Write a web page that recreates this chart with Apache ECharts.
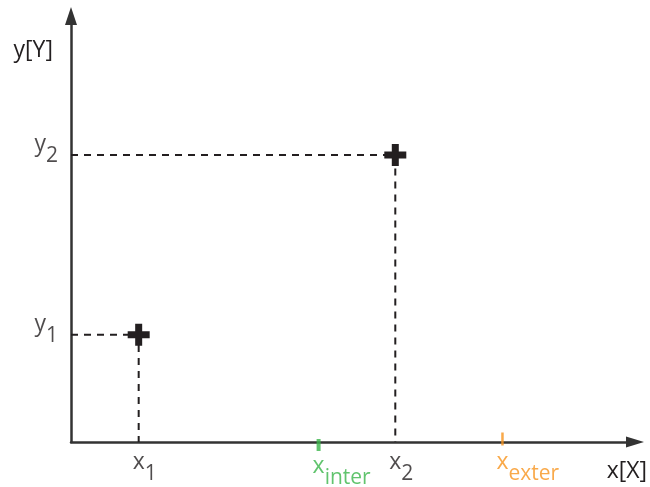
<!DOCTYPE html>
<html><head><meta charset="utf-8">
<script src="https://cdn.jsdelivr.net/npm/echarts@6/dist/echarts.min.js"></script>
<style>html,body{margin:0;padding:0;background:#fff}#c{width:650px;height:487px}</style>
</head><body><div id="c"></div>
<script>
// ---- data ----
const pointX = [12.0, 57.5];
const pointY = [25.2, 67.4];
const xTickValues = [12.0, 43.9, 57.5, 76.5];
const xTickSubs = ['1', 'inter', '2', 'exter'];
const yTickValues = [25.2, 67.4];
const yTickSubs = ['1', '2'];
const xAxisName = 'x[X]';
const yAxisName = 'y[Y]';

// ---- styles ----
const INK = '#231f20';
const AXIS = '#333333';
const FONT = 'Open Sans';
const xTickStyle = [
  { color: INK, mark: null, markDy: 0, dy: 0 },
  { color: '#39b54a', mark: [4, 12], markDy: 3, dy: 4 },
  { color: INK, mark: null, markDy: 0, dy: 0 },
  { color: '#f7941d', mark: [2.5, 13], markDy: -3, dy: 0 }
];
function rich(color) {
  return {
    m: { fontFamily: FONT, fontSize: 23, lineHeight: 24, verticalAlign: 'top', color: color },
    s: { fontFamily: FONT, fontSize: 21, lineHeight: 22, padding: [13, 0, 0, 0], verticalAlign: 'top', color: color }
  };
}

const chart = echarts.init(document.getElementById('c'), null, { renderer: 'canvas' });

const series = [];
// dashed guide lines
pointX.forEach(function (x, i) {
  series.push({
    type: 'line', silent: true, symbol: 'none', z: 2,
    lineStyle: { color: INK, width: 2, type: [7, 6] },
    data: [[0, pointY[i]], [x, pointY[i]], [x, 0]]
  });
});
// crosses
series.push({
  type: 'scatter', z: 5, silent: true,
  symbol: 'path://M7.5,0H14.5V7.5H22V14.5H14.5V22H7.5V14.5H0V7.5H7.5Z',
  symbolSize: 22,
  itemStyle: { color: INK, opacity: 1 },
  data: pointX.map(function (x, i) { return [x, pointY[i]]; })
});
// coloured tick marks on the x axis
series.push({
  type: 'scatter', z: 6, silent: true, symbol: 'rect',
  data: xTickValues.map(function (v, i) {
    const st = xTickStyle[i];
    if (!st.mark) return null;
    return {
      value: [v, 0], symbolSize: st.mark, symbolOffset: [0, st.markDy],
      itemStyle: { color: st.color }
    };
  }).filter(function (d) { return d; })
});
// x labels
series.push({
  type: 'scatter', z: 7, silent: true, symbolSize: 1,
  itemStyle: { color: 'rgba(0,0,0,0)' },
  data: xTickValues.map(function (v, i) {
    const st = xTickStyle[i];
    return {
      value: [v, 0],
      label: {
        show: true, position: 'inside', align: 'left', verticalAlign: 'top',
        offset: [-6, 9 + st.dy],
        formatter: '{m|x}{s|' + xTickSubs[i] + '}',
        rich: rich(st.color)
      }
    };
  })
});
// y labels
series.push({
  type: 'scatter', z: 7, silent: true, symbolSize: 1,
  itemStyle: { color: 'rgba(0,0,0,0)' },
  data: yTickValues.map(function (v, i) {
    return {
      value: [0, v],
      label: {
        show: true, position: 'inside', align: 'right', verticalAlign: 'top',
        offset: [-13, -22],
        formatter: '{m|y}{s|' + yTickSubs[i] + '}',
        rich: rich(INK)
      }
    };
  })
});

chart.setOption({
  animation: false,
  backgroundColor: '#ffffff',
  grid: { left: 71, right: 14, top: 16, bottom: 45, containLabel: false },
  xAxis: {
    type: 'value', min: 0, max: 100,
    name: xAxisName, nameLocation: 'end', nameGap: 12,
    nameTextStyle: { fontFamily: FONT, fontSize: 23, color: INK, align: 'right', verticalAlign: 'top', padding: [18, 0, 0, 0] },
    axisLine: { show: true, onZero: false, symbol: ['none', 'triangle'], symbolSize: [11, 18], lineStyle: { color: AXIS, width: 2.5 } },
    axisTick: { show: false }, axisLabel: { show: false }, splitLine: { show: false }
  },
  yAxis: {
    type: 'value', min: 0, max: 100,
    name: yAxisName, nameLocation: 'end', nameGap: -34,
    nameTextStyle: { fontFamily: FONT, fontSize: 23, color: INK, align: 'right', verticalAlign: 'middle', padding: [0, 18, 0, 0] },
    axisLine: { show: true, onZero: false, symbol: ['none', 'triangle'], symbolSize: [12, 18], lineStyle: { color: AXIS, width: 2.5 } },
    axisTick: { show: false }, axisLabel: { show: false }, splitLine: { show: false }
  },
  series: series
});
</script>
</body></html>
